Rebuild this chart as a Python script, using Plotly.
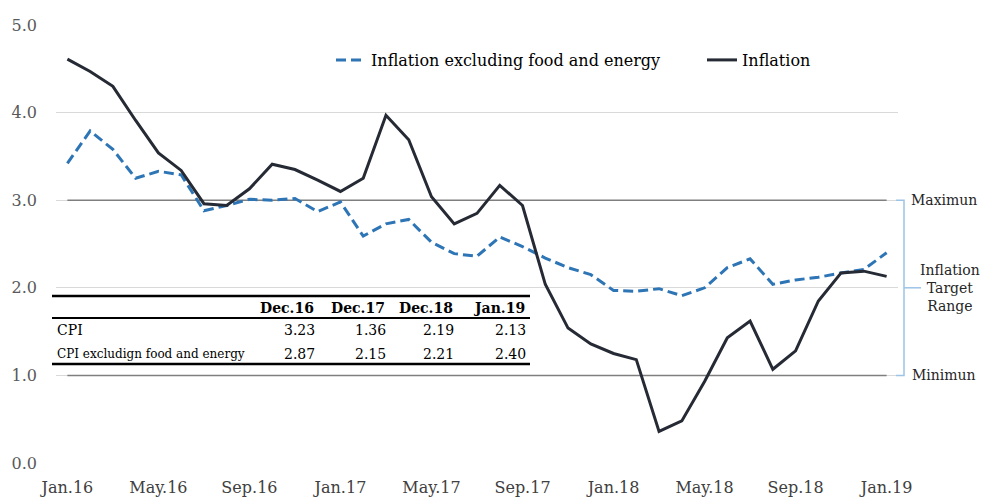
import plotly.graph_objects as go

# ---------------- data ----------------
months = ["Jan.16", "Feb.16", "Mar.16", "Apr.16", "May.16", "Jun.16", "Jul.16", "Aug.16",
          "Sep.16", "Oct.16", "Nov.16", "Dec.16", "Jan.17", "Feb.17", "Mar.17", "Apr.17",
          "May.17", "Jun.17", "Jul.17", "Aug.17", "Sep.17", "Oct.17", "Nov.17", "Dec.17",
          "Jan.18", "Feb.18", "Mar.18", "Apr.18", "May.18", "Jun.18", "Jul.18", "Aug.18",
          "Sep.18", "Oct.18", "Nov.18", "Dec.18", "Jan.19"]

inflation = [4.61, 4.47, 4.30, 3.91, 3.54, 3.34, 2.96, 2.94, 3.13, 3.41, 3.35, 3.23,
             3.10, 3.25, 3.97, 3.69, 3.04, 2.73, 2.85, 3.17, 2.94, 2.04, 1.54, 1.36,
             1.25, 1.18, 0.36, 0.48, 0.93, 1.43, 1.62, 1.07, 1.28, 1.85, 2.17, 2.19, 2.13]

core_inflation = [3.42, 3.79, 3.58, 3.25, 3.33, 3.29, 2.88, 2.94, 3.01, 3.00, 3.02, 2.87,
                  2.98, 2.59, 2.73, 2.78, 2.52, 2.39, 2.36, 2.58, 2.47, 2.34, 2.23, 2.15,
                  1.97, 1.96, 1.99, 1.91, 2.00, 2.23, 2.33, 2.04, 2.09, 2.12, 2.17, 2.21, 2.40]

tick_labels = ["Jan.16", "May.16", "Sep.16", "Jan.17", "May.17", "Sep.17",
               "Jan.18", "May.18", "Sep.18", "Jan.19"]
y_ticks = [0, 1, 2, 3, 4, 5]

target_max = 3.0
target_min = 1.0

table_columns = ["Dec.16", "Dec.17", "Dec.18", "Jan.19"]
table_rows = ["CPI", "CPI excludign food and energy"]
table_cpi = [3.23, 1.36, 2.19, 2.13]
table_core = [2.87, 2.15, 2.21, 2.40]

# ---------------- layout helpers ----------------
W, H = 983, 498
ML, MR, MT, MB = 56, 85, 25, 35
FONT = "DejaVu Serif"


def px(x):
    return (x - ML) / (W - ML - MR)


def py(y):
    return (H - MB - y) / (H - MT - MB)


fig = go.Figure()

# target range lines
fig.add_trace(go.Scatter(x=[months[0], months[-1]], y=[target_max, target_max], mode="lines",
                         line=dict(color="#7f7f7f", width=1.5), showlegend=False, hoverinfo="skip"))
fig.add_trace(go.Scatter(x=[months[0], months[-1]], y=[target_min, target_min], mode="lines",
                         line=dict(color="#7f7f7f", width=1.5), showlegend=False, hoverinfo="skip"))

fig.add_trace(go.Scatter(x=months, y=core_inflation, mode="lines",
                         name="Inflation excluding food and energy", legend="legend",
                         line=dict(color="#2e75b6", width=3, dash="10px,5px")))
fig.add_trace(go.Scatter(x=months, y=inflation, mode="lines", name="Inflation",
                         legend="legend2",
                         line=dict(color="#252a34", width=3)))

shapes = []
annotations = []

# bracket for target range
bc = "#9dc3e6"
shapes.append(dict(type="path", xref="paper", yref="y",
                   path=f"M {px(896)},{target_max} L {px(904)},{target_max} L {px(904)},{target_min} L {px(896)},{target_min}",
                   line=dict(color=bc, width=1.5)))
shapes.append(dict(type="line", xref="paper", yref="y", x0=px(904), x1=px(921),
                   y0=(target_max + target_min) / 2, y1=(target_max + target_min) / 2,
                   line=dict(color=bc, width=1.5)))

annotations.append(dict(xref="paper", yref="y", x=px(944), y=target_max, text="Maximun",
                        showarrow=False, xanchor="center", yanchor="middle",
                        font=dict(family=FONT, size=14, color="#262626")))
annotations.append(dict(xref="paper", yref="y", x=px(944), y=target_min, text="Minimun",
                        showarrow=False, xanchor="center", yanchor="middle",
                        font=dict(family=FONT, size=14, color="#262626")))
annotations.append(dict(xref="paper", yref="y", x=px(950), y=(target_max + target_min) / 2,
                        text="Inflation<br>Target<br>Range", showarrow=False, align="center",
                        xanchor="center", yanchor="middle",
                        font=dict(family=FONT, size=14, color="#262626")))

# table
for yy, w in [(296, 2.5), (318, 2), (364, 2.5)]:
    shapes.append(dict(type="line", xref="paper", yref="paper", x0=px(52), x1=px(530),
                       y0=py(yy), y1=py(yy), line=dict(color="#000000", width=w)))

col_right = [316, 387, 455, 527]
for c, xr in zip(table_columns, col_right):
    annotations.append(dict(xref="paper", yref="paper", x=px(xr), y=py(308), text=f"<b>{c}</b>",
                            showarrow=False, xanchor="right", yanchor="middle",
                            font=dict(family=FONT, size=14, color="#000000")))
row_y = [330, 354]
row_sizes = [14, 12]
for label, vals, yy, fs in zip(table_rows, [table_cpi, table_core], row_y, row_sizes):
    annotations.append(dict(xref="paper", yref="paper", x=px(55), y=py(yy), text=label,
                            showarrow=False, xanchor="left", yanchor="middle",
                            font=dict(family=FONT, size=fs, color="#000000")))
    for v, xr in zip(vals, col_right):
        annotations.append(dict(xref="paper", yref="paper", x=px(xr + 1), y=py(yy), text=f"{v:.2f}",
                                showarrow=False, xanchor="right", yanchor="middle",
                                font=dict(family=FONT, size=14, color="#000000")))

legend_style = dict(orientation="h", xanchor="left", y=py(60), yanchor="middle",
                    font=dict(family=FONT, size=16, color="#000000"),
                    bgcolor="rgba(0,0,0,0)", borderwidth=0)

fig.update_layout(
    width=W, height=H,
    margin=dict(l=ML, r=MR, t=MT, b=MB, autoexpand=False),
    paper_bgcolor="white", plot_bgcolor="white",
    font=dict(family=FONT, size=15, color="#262626"),
    showlegend=True,
    legend=dict(x=px(331), **legend_style),
    legend2=dict(x=px(702), **legend_style),
    xaxis=dict(type="category", categoryorder="array", categoryarray=months,
               range=[-0.5, len(months) - 0.5], tickmode="array", tickvals=tick_labels,
               ticktext=tick_labels, showgrid=False, zeroline=False, showline=False,
               ticks="", ticklabelstandoff=13, automargin=False,
               tickfont=dict(family=FONT, size=16, color="#404040")),
    yaxis=dict(range=[0, 5], tickmode="array", tickvals=y_ticks, tickformat=".1f",
               showgrid=True, gridcolor="#d9d9d9", gridwidth=1, zeroline=False,
               showline=False, ticks="", ticklabelstandoff=18, automargin=False,
               tickfont=dict(family=FONT, size=16, color="#595959")),
    shapes=shapes, annotations=annotations,
    hovermode=False,
)

fig.write_html("out.html", config={"displayModeBar": False},
               post_script="document.body.style.margin='0';")
